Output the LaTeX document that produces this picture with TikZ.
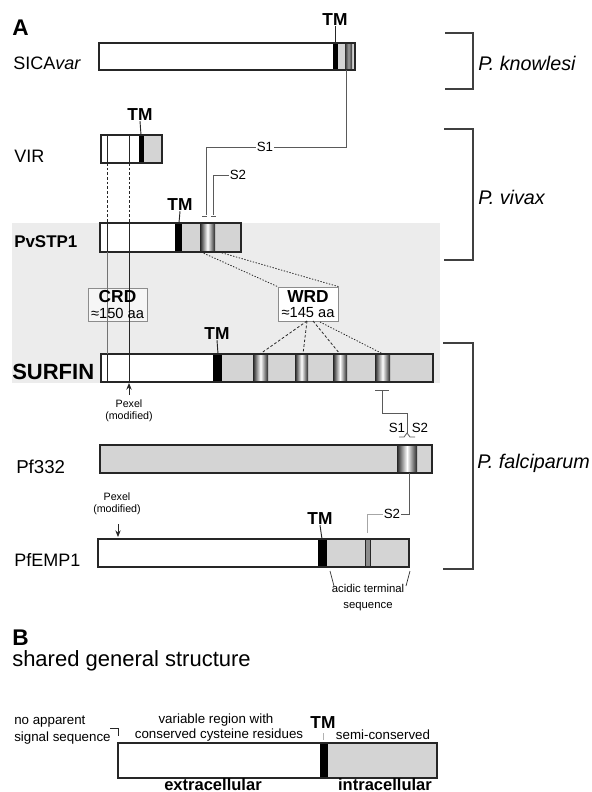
\documentclass[tikz,border=0pt]{standalone}
\usepackage{fontspec}
\setmainfont{Liberation Sans}
\usetikzlibrary{arrows.meta}
\definecolor{dom}{HTML}{D4D4D4}
\definecolor{bgray}{HTML}{ECECEC}
\definecolor{edge}{HTML}{262626}
\definecolor{conn}{HTML}{5A5A5A}
\begin{document}
\begin{tikzpicture}[x=0.75pt,y=-0.75pt,
  protbox/.style={draw=edge, line width=0.85pt},
  innerline/.style={draw=edge, line width=0.5pt},
  tmbar/.style={fill=black},
  domfill/.style={fill=dom},
  cylstripe/.style={left color=black!85, right color=black!85, middle color=white},
  darkstripe/.style={left color=black!80, right color=black!80, middle color=black!40},
  connline/.style={draw=conn, line width=0.6pt},
  dashline/.style={draw=edge, line width=0.6pt, dash pattern=on 2pt off 1.5pt},
  dotline/.style={draw=edge, line width=0.6pt, dash pattern=on 1pt off 1.2pt},
  brack/.style={draw=black!75, line width=0.9pt},
  panellab/.style={font=\bfseries\fontsize{17}{20}\selectfont, anchor=west, inner sep=0pt},
  protname/.style={font=\fontsize{13.5}{16}\selectfont, anchor=west, inner sep=0pt},
  bprotname/.style={font=\bfseries\fontsize{12.7}{15}\selectfont, anchor=west, inner sep=0pt},
  tmlab/.style={font=\bfseries\fontsize{13}{15}\selectfont, inner sep=0pt},
  species/.style={font=\itshape\fontsize{14.8}{17}\selectfont, anchor=west, inner sep=0pt},
  slab/.style={font=\fontsize{10}{12}\selectfont, inner sep=0.5pt},
  tinytext/.style={font=\fontsize{8}{9}\selectfont, inner sep=0pt, align=center},
  smalltext/.style={font=\fontsize{10}{12}\selectfont, inner sep=0pt},
  celltext/.style={font=\bfseries\fontsize{12.4}{14}\selectfont, inner sep=0pt},
  domlab/.style={draw=black!45, fill=white, fill opacity=0.55, text opacity=1, line width=0.6pt}
]
\useasboundingbox (0,0) rectangle (592,792);

% gray background
\fill[bgray] (12,223) rectangle (440,383);

% ---------------- panel A ----------------
\node[panellab] (labA) at (12,28) {A};

% SICAvar
\node[protname] (nSICA) at (13,63) {SICA\textit{var}};
\fill[white] (99,43) rectangle (355,70);
\fill[tmbar] (333,43) rectangle (338,70);
\fill[domfill] (338,43) rectangle (355,70);
\shade[darkstripe] (345,43) rectangle (352,70);
\draw[protbox] (99,43) rectangle (355,70);
\node[tmlab] (tmSICA) at (335,20) {TM};
\draw[edge, line width=0.7pt] (tmSICA.south) -- (335,43);

% VIR
\node[protname] (nVIR) at (14,156) {VIR};
\fill[white] (101,135) rectangle (162,163);
\fill[tmbar] (139,135) rectangle (144,163);
\fill[domfill] (144,135) rectangle (162,163);
\draw[innerline] (107,135) -- (107,163);
\draw[innerline] (129,135) -- (129,163);
\draw[protbox] (101,135) rectangle (162,163);
\node[tmlab] (tmVIR) at (140,115) {TM};
\draw[edge, line width=0.7pt] (tmVIR.south) -- (141,135);

% PvSTP1
\node[bprotname] (nPv) at (14,242) {PvSTP1};
\fill[white] (100,223) rectangle (241,252);
\fill[tmbar] (175,223) rectangle (182,252);
\fill[domfill] (182,223) rectangle (241,252);
\shade[cylstripe] (200,223) rectangle (215,252);
\draw[innerline] (107,223) -- (107,252);
\draw[innerline] (129,223) -- (129,252);
\draw[protbox] (100,223) rectangle (241,252);
\node[tmlab] (tmPv) at (180,205) {TM};
\draw[edge, line width=0.7pt] (tmPv.south) -- (179,223);

% VIR -> PvSTP1 dashed
\coordinate (v1) at (107,163); \coordinate (v2) at (129,163);
\coordinate (p1t) at (107,223); \coordinate (p2t) at (129,223);
\draw[dashline] (v1) -- (p1t);
\draw[dashline] (v2) -- (p2t);

% SURFIN
\node[font=\bfseries\fontsize{16.5}{19}\selectfont, anchor=west, inner sep=0pt] (nSUR) at (12,372) {SURFIN};
\fill[white] (101,354) rectangle (433,382);
\fill[tmbar] (213,354) rectangle (222,382);
\fill[domfill] (222,354) rectangle (433,382);
\shade[cylstripe] (253,354) rectangle (268,382);
\shade[cylstripe] (295,354) rectangle (308,382);
\shade[cylstripe] (333,354) rectangle (347,382);
\shade[cylstripe] (375,354) rectangle (390,382);
\draw[innerline] (107,354) -- (107,382);
\draw[innerline] (129,354) -- (129,382);
\draw[protbox] (101,354) rectangle (433,382);
\node[tmlab] (tmSUR) at (217,334) {TM};
\draw[edge, line width=0.7pt] (tmSUR.south) -- (218,354);

% CRD box and lines PvSTP1 -> SURFIN
\node[domlab, minimum width=59*0.75pt, minimum height=33*0.75pt, inner sep=0pt] (CRD) at (117.5,304.5) {};
\coordinate (p1b) at (107,252); \coordinate (p2b) at (129,252);
\coordinate (s1t) at (107,354); \coordinate (s2t) at (129,354);
\draw[draw=black!55, line width=0.6pt] (p1b) -- (s1t);
\draw[draw=edge, line width=0.7pt] (p2b) -- (s2t);
\node[font=\bfseries\fontsize{13}{15}\selectfont, inner sep=0pt] (CRDt) at (117.5,297) {CRD};
\node[font=\fontsize{11}{13}\selectfont, inner sep=0pt] (CRDs) at (117.5,313) {≈150 aa};

% WRD box
\node[domlab, fill opacity=1, minimum width=60*0.75pt, minimum height=34*0.75pt, inner sep=0pt] (WRD) at (308,304) {};
\node[font=\bfseries\fontsize{13}{15}\selectfont, inner sep=0pt] (WRDt) at (308,297) {WRD};
\node[font=\fontsize{11}{13}\selectfont, inner sep=0pt] (WRDs) at (308,313) {≈145 aa};
\coordinate (pvc1) at (201,252); \coordinate (pvc2) at (219,252);
\draw[dotline] (pvc1) -- (WRD.north west);
\draw[dotline] (pvc2) -- (WRD.north east);
\coordinate (wb1) at (307,321); \coordinate (wb2) at (313,321); \coordinate (wb3) at (320,322);
\coordinate (st1) at (260,354); \coordinate (st2) at (303,354);
\coordinate (st3) at (340,354); \coordinate (st4) at (383,354);
\draw[dashline] (wb1) -- (st1);
\draw[dashline] (wb1) -- (st2);
\draw[dashline] (wb2) -- (st3);
\draw[dotline] (wb3) -- (st4);

% Pexel arrow SURFIN
\coordinate (pxS) at (129,383);
\draw[edge, line width=0.7pt, -{Stealth[length=5pt,width=4pt]}] (129,395) -- (pxS);
\node[tinytext] (pexS) at (129,411) {Pexel\\(modified)};

% S1 / S2 connectors (SICAvar -> PvSTP1)
\coordinate (sicaBot) at (346,70);
\node[slab] (S1) at (265,147) {S1};
\node[slab] (S2) at (238,175) {S2};
\coordinate (pvS1) at (206,215);
\coordinate (pvS2) at (213,215);
\draw[connline] (sicaBot) |- (S1.east);
\draw[connline] (S1.west) -| (pvS1);
\draw[connline] (S2.west) -| (pvS2);
\draw[connline] (202,216) -- (207,216);
\draw[connline] (211,216) -- (216,216);

% Pf332
\node[font=\fontsize{14}{16}\selectfont, anchor=west, inner sep=0pt] (nPf) at (16,467) {Pf332};
\fill[domfill] (100,445) rectangle (432,473);
\shade[cylstripe] (397,445) rectangle (417,473);
\draw[protbox] (100,445) rectangle (432,473);

% SURFIN -> Pf332 connector
\coordinate (surTick) at (382,390);
\draw[connline] (375,390) -- (389,390);
\draw[connline] (surTick) -- (382,413) -- (407,413) -- (407,433);
\draw[connline] (399,437) -- (404,437) -- (407,433) -- (410,437) -- (415,437);
\node[slab] (S1b) at (397,428) {S1};
\node[slab] (S2b) at (420,428) {S2};

% PfEMP1
\node[protname] (nEMP) at (14,560) {PfEMP1};
\fill[white] (98,539) rectangle (409,567);
\fill[tmbar] (318,539) rectangle (327,567);
\fill[domfill] (327,539) rectangle (409,567);
\filldraw[fill=black!45, draw=edge, line width=0.5pt] (365,539) rectangle (370,567);
\draw[protbox] (98,539) rectangle (409,567);
\node[tmlab] (tmEMP) at (320,519) {TM};
\draw[edge, line width=0.7pt] (tmEMP.south) -- (322,539);

% Pf332 -> PfEMP1 connector
\coordinate (pfBot) at (409,473);
\node[slab] (S2c) at (392,514) {S2};
\coordinate (empS2) at (367,533);
\draw[connline] (pfBot) |- (S2c.east);
\draw[draw=black!35, line width=0.6pt] (S2c.west) -| (empS2);

% Pexel arrow PfEMP1
\coordinate (pxE) at (118,537);
\draw[edge, line width=0.7pt, -{Stealth[length=5pt,width=4pt]}] (118,524) -- (pxE);
\node[tinytext] (pexE) at (117,504) {Pexel\\(modified)};

% acidic terminal sequence
\draw[edge, line width=0.5pt] (330,571) -- (334,586);
\draw[edge, line width=0.5pt] (410,571) -- (406,586);
\node[tinytext, font=\fontsize{8.5}{12}\selectfont] (acid) at (368,598) {acidic terminal\\sequence};

% species brackets
\draw[brack] (445,33) -- (473,33) -- (473,89) -- (445,89);
\node[species] (spK) at (478,63) {P. knowlesi};
\draw[brack] (444,129) -- (473,129) -- (473,260) -- (444,260);
\node[species] (spV) at (478,197) {P. vivax};
\draw[brack] (443,343) -- (473,343) -- (473,569) -- (443,569);
\node[species] (spF) at (477,463) {P. falciparum};

% ---------------- panel B ----------------
\node[panellab] (labB) at (12,638) {B};
\node[font=\fontsize{16.5}{19}\selectfont, anchor=west, inner sep=0pt] (shared) at (12,661) {shared general structure};

\fill[white] (118,743) rectangle (437,778);
\fill[tmbar] (320,743) rectangle (328,778);
\fill[domfill] (328,743) rectangle (437,778);
\draw[protbox] (118,743) rectangle (437,778);
\node[tmlab] (tmB) at (323,723) {TM};
\draw[black!30, line width=0.6pt] (323,733) -- (323,740);

\node[smalltext, anchor=west] (noapp) at (14,722) {no apparent};
\node[smalltext, anchor=west] (sigseq) at (14,738) {signal sequence};
\draw[edge, line width=0.6pt] (110,728) -- (118,728) -- (118,736);
\node[smalltext] (varreg) at (216,720) {variable region with};
\node[smalltext] (consc) at (219,735) {conserved cysteine residues};
\node[smalltext] (semic) at (383,735) {semi-conserved};
\node[celltext] (extra) at (213,784.5) {extracellular};
\node[celltext] (intra) at (385,784.5) {intracellular};
\end{tikzpicture}
\end{document}
